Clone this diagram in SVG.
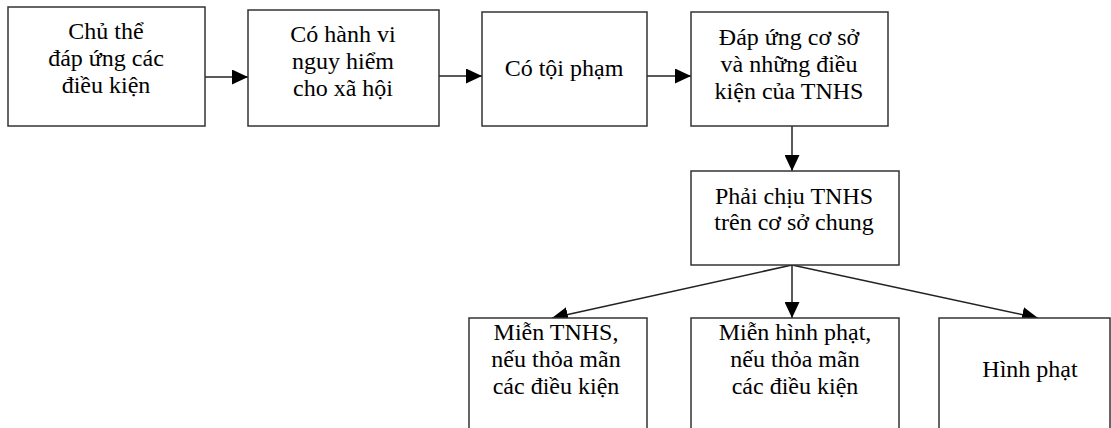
<svg xmlns="http://www.w3.org/2000/svg" width="1111" height="428" viewBox="0 0 1111 428">
<defs>
<marker id="arr" markerUnits="userSpaceOnUse" markerWidth="17" markerHeight="15" refX="16" refY="7.5" orient="auto">
<path d="M0,0 L16,7.5 L0,15 z" fill="#000"/>
</marker>
<style>
.box{fill:#fff;stroke:#333;stroke-width:1.5}
.t{font-family:"Liberation Serif","Times New Roman",serif;font-size:24px;fill:#000;text-anchor:middle}
.c{stroke:#222;stroke-width:1.5;fill:none;marker-end:url(#arr)}
</style>
</defs>
<rect width="1111" height="428" fill="#fff"/>
<g id="connectors">
<line class="c" x1="205" y1="77" x2="248" y2="77"/>
<line class="c" x1="439" y1="76" x2="482" y2="76"/>
<line class="c" x1="647" y1="76" x2="691" y2="76"/>
<line class="c" x1="792" y1="126" x2="792" y2="171"/>
<line class="c" x1="792" y1="265" x2="552" y2="318"/>
<line class="c" x1="792" y1="265" x2="792" y2="318"/>
<line class="c" x1="792" y1="265" x2="1038" y2="318"/>
</g>
<g id="n1"><rect class="box" x="8" y="7" width="197" height="119"/>
<text class="t" x="106" y="39">Chủ thể</text><text class="t" x="106" y="66">đáp ứng các</text><text class="t" x="106" y="93">điều kiện</text></g>
<g id="n2"><rect class="box" x="248" y="10" width="191" height="116"/>
<text class="t" x="343" y="42">Có hành vi</text><text class="t" x="343" y="69">nguy hiểm</text><text class="t" x="343" y="96">cho xã hội</text></g>
<g id="n3"><rect class="box" x="482" y="12" width="165" height="114"/>
<text class="t" x="564" y="76">Có tội phạm</text></g>
<g id="n4"><rect class="box" x="691" y="12" width="197" height="114"/>
<text class="t" x="789" y="45">Đáp ứng cơ sở</text><text class="t" x="789" y="72">và những điều</text><text class="t" x="789" y="99">kiện của TNHS</text></g>
<g id="n5"><rect class="box" x="691" y="171" width="208" height="94"/>
<text class="t" x="794" y="204">Phải chịu TNHS</text><text class="t" x="794" y="230">trên cơ sở chung</text></g>
<g id="n6"><rect class="box" x="469" y="318" width="178" height="130"/>
<text class="t" x="556" y="340">Miễn TNHS,</text><text class="t" x="556" y="367">nếu thỏa mãn</text><text class="t" x="556" y="394">các điều kiện</text></g>
<g id="n7"><rect class="box" x="691" y="318" width="208" height="130"/>
<text class="t" x="795" y="340">Miễn hình phạt,</text><text class="t" x="795" y="367">nếu thỏa mãn</text><text class="t" x="795" y="394">các điều kiện</text></g>
<g id="n8"><rect class="box" x="939" y="318" width="171" height="130"/>
<text class="t" x="1030" y="377">Hình phạt</text></g>
</svg>
